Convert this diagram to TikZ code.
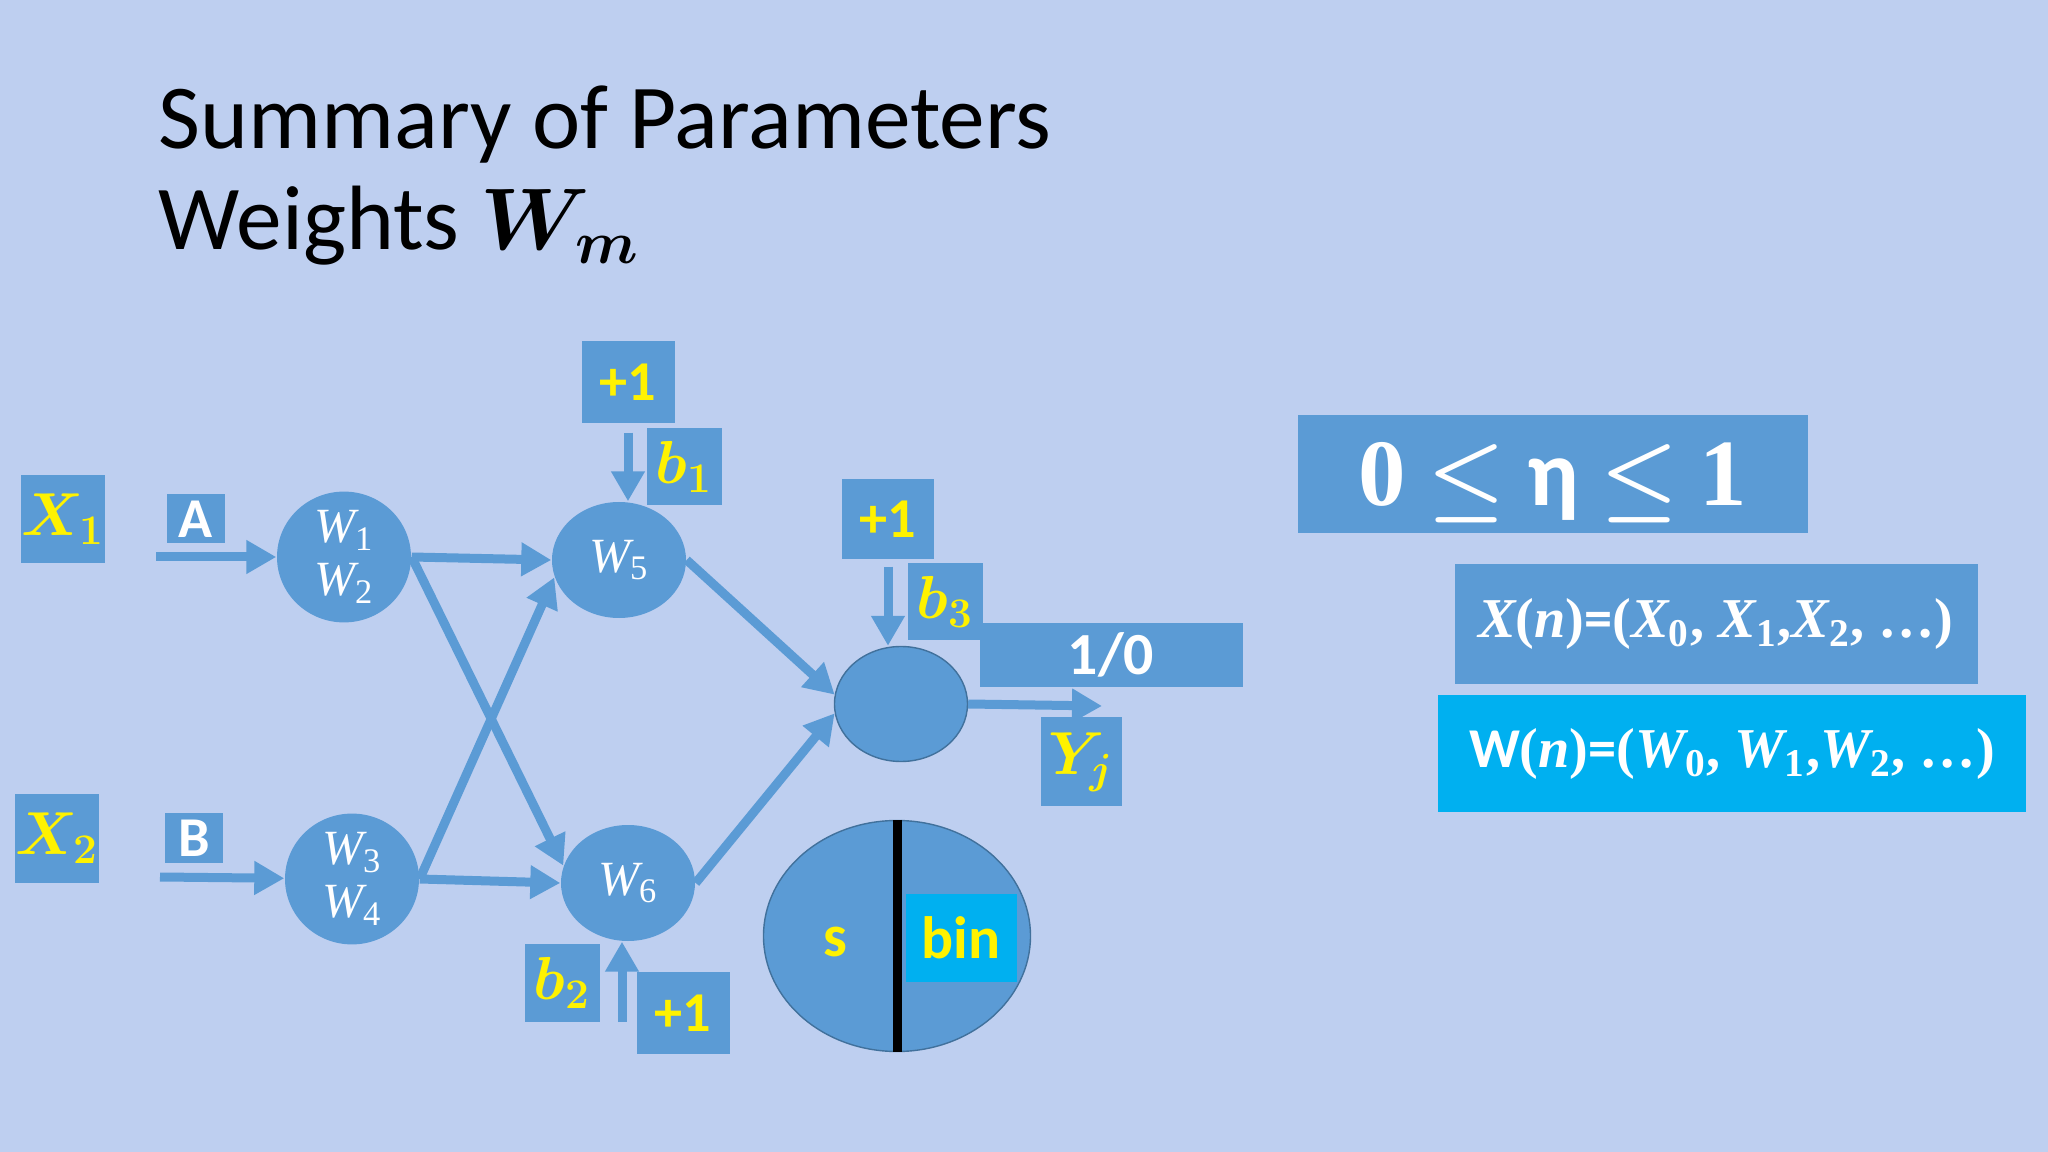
\documentclass[tikz,border=0pt]{standalone}
\usepackage{amsmath, amssymb}
\usepackage{fontspec}
\setmainfont{Carlito}
\newfontfamily\numfont{Liberation Serif}
\newcommand{\vsub}[2]{{\itshape #1}\textsubscript{\upshape #2}}
\usetikzlibrary{shapes, positioning, arrows.meta}
\definecolor{bg}{RGB}{190,207,240}
\definecolor{boxblue}{RGB}{91,155,213}
\definecolor{boxcyan}{RGB}{0,176,240}
\definecolor{rim}{RGB}{65,113,156}

\begin{document}
\begin{tikzpicture}[
    tag/.style={rectangle, fill=boxblue, inner sep=0pt, font=\fontsize{16}{19}\selectfont\bfseries\boldmath},
    ylw/.style={text=yellow},
    neuron/.style={ellipse, fill=boxblue, minimum width=1.34cm, minimum height=1.16cm, inner sep=0pt, text=white, align=center, font=\fontsize{14}{15}\selectfont\numfont},
    arr/.style={-{Triangle[length=0.3cm, width=0.32cm]}, line width=0.09cm, draw=boxblue}]
    \useasboundingbox (0,0) rectangle (20.48,-11.52);
    \fill[bg] (0,0) rectangle (20.48,-11.52);
    \node[anchor=base west, inner sep=0pt, font=\fontsize{26}{30}\selectfont] (title) at (1.58,-1.49) {Summary of Parameters};
    \node[anchor=base west, inner sep=0pt, font=\fontsize{26}{30}\selectfont] (subtitle) at (1.58,-2.50) {Weights $\boldsymbol{W_m}$};
    \node[tag, ylw, minimum width=0.82cm, minimum height=0.88cm, font=\fontsize{18}{20}\selectfont\boldmath] (x1) at (0.63,-5.19) {$X_1$};
    \node[tag, ylw, minimum width=0.83cm, minimum height=0.89cm, font=\fontsize{18}{20}\selectfont\boldmath] (x2) at (0.57,-8.38) {$X_2$};
    \node[tag, text=white, minimum width=0.58cm, minimum height=0.49cm] (a) at (1.96,-5.19) {A};
    \node[tag, text=white, minimum width=0.58cm, minimum height=0.50cm] (b) at (1.94,-8.38) {B};
    \node[neuron] (w12) at (3.44,-5.57) {\vsub{W}{1}\\\vsub{W}{2}};
    \node[neuron] (w34) at (3.52,-8.79) {\vsub{W}{3}\\\vsub{W}{4}};
    \node[neuron] (w5) at (6.19,-5.60) {\vsub{W}{5}};
    \node[neuron] (w6) at (6.28,-8.83) {\vsub{W}{6}};
    \node[neuron, draw=rim, thin, minimum width=1.33cm, minimum height=1.15cm] (out) at (9.01,-7.04) {};
    \node[tag, ylw, minimum width=0.93cm, minimum height=0.82cm] (p1) at (6.28,-3.82) {+1};
    \node[tag, ylw, minimum width=0.75cm, minimum height=0.77cm, font=\fontsize{18}{20}\selectfont\boldmath] (b1) at (6.84,-4.67) {$b_1$};
    \node[tag, ylw, minimum width=0.75cm, minimum height=0.78cm, font=\fontsize{18}{20}\selectfont\boldmath] (b2) at (5.62,-9.83) {$b_2$};
    \node[tag, ylw, minimum width=0.93cm, minimum height=0.82cm] (p2) at (6.83,-10.13) {+1};
    \node[tag, ylw, minimum width=0.92cm, minimum height=0.80cm] (p3) at (8.88,-5.19) {+1};
    \node[tag, ylw, minimum width=0.75cm, minimum height=0.77cm, font=\fontsize{18}{20}\selectfont\boldmath] (b3) at (9.45,-6.02) {$b_3$};
    \node[tag, text=white, minimum width=2.63cm, minimum height=0.63cm, font=\fontsize{17}{20}\selectfont\bfseries] (onezero) at (11.11,-6.55) {1/0};
    \node[tag, ylw, minimum width=0.81cm, minimum height=0.89cm, font=\fontsize{18}{20}\selectfont\boldmath] (yj) at (10.81,-7.62) {$Y_j$};
    \node[ellipse, fill=boxblue, draw=rim, minimum width=2.67cm, minimum height=2.31cm] (split) at (8.97,-9.36) {};
    \draw[line width=0.09cm] (split.north) -- (split.south);
    \node[ylw, font=\fontsize{17}{20}\selectfont\bfseries] (s) at (8.35,-9.42) {s};
    \node[tag, ylw, fill=boxcyan, minimum width=1.11cm, minimum height=0.88cm, font=\fontsize{17}{20}\selectfont\bfseries] (bin) at (9.61,-9.38) {bin};
    \node[tag, text=white, minimum width=5.10cm, minimum height=1.18cm, text depth=0pt, font=\fontsize{27}{30}\selectfont\bfseries\boldmath] (eta) at (15.53,-4.74) {{\numfont 0} $\leq$ η $\leq$ {\numfont 1}};
    \node[tag, text=white, minimum width=5.23cm, minimum height=1.19cm, font=\fontsize{16}{20}\selectfont\numfont\bfseries] (xn) at (17.16,-6.24) {{\itshape X}({\itshape n}){\rmfamily=}(\vsub{X}{0}, \vsub{X}{1},\vsub{X}{2}, …)};
    \node[tag, text=white, fill=boxcyan, minimum width=5.88cm, minimum height=1.17cm, font=\fontsize{16}{20}\selectfont\numfont\bfseries] (wn) at (17.32,-7.54) {{\rmfamily W}({\itshape n}){\rmfamily=}(\vsub{W}{0}, \vsub{W}{1},\vsub{W}{2}, …)};
    \coordinate (atail) at (1.56,-5.57);
    \coordinate (btail) at (1.60,-8.77);
    \coordinate (p2tail) at (6.22,-10.22);
    \coordinate (yhead) at (11.02,-7.06);
    \draw[arr] (atail) -- (w12);
    \draw[arr] (btail) -- (w34);
    \draw[arr] (w12.east) -- (w5.west);
    \draw[arr] (w12.east) -- (w6.165);
    \draw[arr] (w34.east) -- (w5.195);
    \draw[arr] (w34.east) -- (w6.west);
    \draw[arr] (w5.east) -- (out.172);
    \draw[arr] (w6.east) -- (out.188);
    \draw[arr] ([yshift=-0.09cm]p1.south) -- (w5.north -| p1.south);
    \draw[arr] (p2tail) -- (w6.south -| p2tail);
    \draw[arr] ([yshift=-0.07cm]p3.south) -- (out.north -| p3.south);
    \draw[arr] (out.east) -- (yhead);
\end{tikzpicture}
\end{document}
